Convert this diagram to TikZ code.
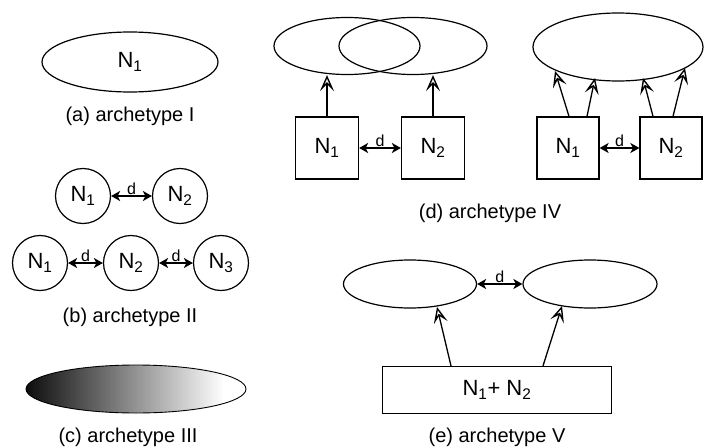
\documentclass[tikz,border=0pt]{standalone}
\usepackage{fontspec}
\setmainfont{Liberation Sans}
\usetikzlibrary{arrows.meta,shapes.geometric}
\pgfdeclarehorizontalshading{archshade}{100bp}{color(0bp)=(black); color(25bp)=(black!95); color(70bp)=(white); color(100bp)=(white)}
\begin{document}
\begin{tikzpicture}[x=1pt,y=-1pt,line width=1.2pt,
  ell/.style={draw,ellipse,inner sep=0pt},
  circ/.style={draw,circle,minimum size=55pt,inner sep=0pt,font=\fontsize{22}{24}\selectfont},
  box/.style={draw,rectangle,inner sep=0pt,font=\fontsize{22}{24}\selectfont},
  captxt/.style={font=\fontsize{20}{24}\selectfont},
  dlab/.style={font=\fontsize{16}{18}\selectfont,inner sep=0.5pt},
  darr/.style={{Stealth[length=9pt,width=10pt,inset=2.5pt]}-{Stealth[length=9pt,width=10pt,inset=2.5pt]},line width=1.6pt},
  oarr/.style={-{Stealth[open,length=16pt,width=14pt,inset=7pt,line width=1.4pt]},line width=1.3pt}]
\useasboundingbox (0,0) rectangle (704,447);
% (a)
\node[ell,minimum width=176pt,minimum height=60pt,font=\fontsize{22}{24}\selectfont] (a) at (130,62) {N\textsubscript{1}};
\node[captxt] (capa) at (130,116) {(a) archetype I};
% (b)
\node[circ] (b1) at (83,196) {N\textsubscript{1}};
\node[circ] (b2) at (180,196) {N\textsubscript{2}};
\draw[darr] (b1) -- node[dlab,above] {d} (b2);
\node[circ] (c1) at (40,263) {N\textsubscript{1}};
\node[circ] (c2) at (131,263) {N\textsubscript{2}};
\node[circ] (c3) at (221,263) {N\textsubscript{3}};
\draw[darr] (c1) -- node[dlab,above] {d} (c2);
\draw[darr] (c2) -- node[dlab,above] {d} (c3);
\node[captxt] (capb) at (130,317) {(b) archetype II};
% (c)
\shade[shading=archshade,draw=black,line width=0.9pt] (136,389) ellipse [x radius=110,y radius=24];
\node[captxt] (capc) at (128,437) {(c) archetype III};
% (d) left
\node[ell,minimum width=146pt,minimum height=57pt] (e1) at (347,46) {};
\node[ell,minimum width=148pt,minimum height=57pt] (e2) at (413,46) {};
\node[box,minimum width=63pt,minimum height=62pt] (d1) at (327,148) {N\textsubscript{1}};
\node[box,minimum width=63pt,minimum height=62pt] (d2) at (433,148) {N\textsubscript{2}};
\draw[darr] (d1) -- node[dlab,above] {d} (d2);
\draw[oarr] (d1.north) -- (d1.north |- e1.south);
\draw[oarr] (d2.north) -- (d2.north |- e2.south);
% (d) right
\node[ell,minimum width=170pt,minimum height=68pt] (E) at (618,47) {};
\node[box,minimum width=62pt,minimum height=62pt] (f1) at (568,148) {N\textsubscript{1}};
\node[box,minimum width=62pt,minimum height=62pt] (f2) at (671,148) {N\textsubscript{2}};
\draw[darr] (f1) -- node[dlab,above] {d} (f2);
\coordinate (t1) at (555,71);
\coordinate (t2) at (595,78);
\coordinate (t3) at (643,78);
\coordinate (t4) at (685,68);
\draw[oarr] ([xshift=1pt]f1.north) -- (t1);
\draw[oarr] ([xshift=19pt]f1.north) -- (t2);
\draw[oarr] ([xshift=-18pt]f2.north) -- (t3);
\draw[oarr] ([xshift=2pt]f2.north) -- (t4);
\node[captxt] (capd) at (490,213) {(d) archetype IV};
% (e)
\node[ell,minimum width=133pt,minimum height=48pt] (g1) at (410,284) {};
\node[ell,minimum width=134pt,minimum height=48pt] (g2) at (590,284) {};
\draw[darr] (g1) -- node[dlab,above] {d} (g2);
\node[box,minimum width=229pt,minimum height=47pt] (G) at (497,390) {N\textsubscript{1}+ N\textsubscript{2}};
\coordinate (u1) at (437,307);
\coordinate (u2) at (562,306);
\draw[oarr] ([xshift=-46pt]G.north) -- (u1);
\draw[oarr] ([xshift=46pt]G.north) -- (u2);
\node[captxt] (cape) at (497,437) {(e) archetype V};
\end{tikzpicture}
\end{document}
